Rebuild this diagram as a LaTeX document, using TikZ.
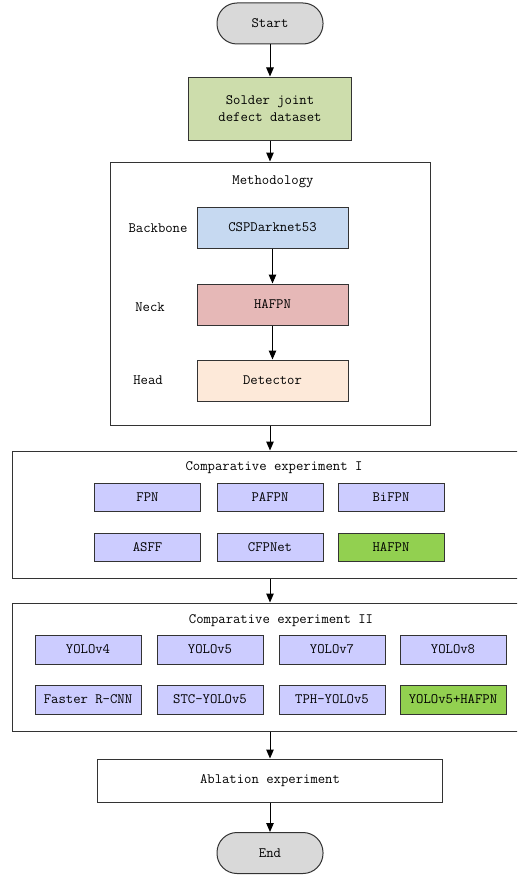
\documentclass[tikz,border=0pt]{standalone}
\usepackage{fontspec}
\usetikzlibrary{arrows.meta}
\definecolor{termgray}{RGB}{217,217,217}
\definecolor{datagreen}{RGB}{205,221,172}
\definecolor{backblue}{RGB}{198,217,241}
\definecolor{neckred}{RGB}{230,184,183}
\definecolor{headcream}{RGB}{253,233,217}
\definecolor{modelblue}{RGB}{204,204,255}
\definecolor{oursgreen}{RGB}{146,208,80}

\begin{document}
\begin{tikzpicture}[x=1pt,y=-1pt,line width=1pt,>={Triangle[length=9pt,width=7.5pt]},
  font=\ttfamily\fontsize{14.3}{17}\selectfont,
  term/.style={draw=black!80,fill=termgray,rounded corners=20pt,minimum width=106,minimum height=41,inner sep=0pt},
  stage/.style={draw=black!80,minimum width=151,minimum height=41,inner sep=0pt},
  model/.style={draw=black!80,fill=modelblue,minimum width=106,minimum height=28,inner sep=0pt},
  ours/.style={model,fill=oursgreen},
  frame/.style={draw=black!80,inner sep=0pt}]
\clip (0,0) rectangle (517,875);
% flow
\node[term] (start) at (270,23.5) {Start};
\node[stage,fill=datagreen,minimum width=163,minimum height=63,align=center] (data) at (270,108.5) {Solder joint\\defect dataset};
\node[frame,minimum width=320,minimum height=263] (method) at (270,293.5) {};
\node (methodT) at (273,182) {Methodology};
\node[stage,fill=backblue] (csp) at (272.5,227.5) {CSPDarknet53};
\node[stage,fill=neckred] (neck) at (272.5,304.5) {HAFPN};
\node[stage,fill=headcream] (det) at (272.5,380.5) {Detector};
\node (backboneL) at (158,228) {Backbone};
\node (neckL) at (150,307) {Neck};
\node (headL) at (148,380) {Head};
% comparative experiment I
\node[frame,minimum width=516,minimum height=127] (compA) at (270,514.5) {};
\node (compAT) at (274,468) {Comparative experiment I};
\node[model] (fpn) at (147.5,497) {FPN};
\node[model] (pafpn) at (270,497) {PAFPN};
\node[model] (bifpn) at (391,497) {BiFPN};
\node[model] (asff) at (147.5,547) {ASFF};
\node[model] (cfpnet) at (270,547) {CFPNet};
\node[ours] (hafpnA) at (391,547) {HAFPN};
% comparative experiment II
\node[frame,minimum width=516,minimum height=128] (compB) at (270,667) {};
\node (compBT) at (281,621) {Comparative experiment II};
\node[model,minimum height=29] (yv4) at (88,649.5) {YOLOv4};
\node[model,minimum height=29] (yv5) at (210,649.5) {YOLOv5};
\node[model,minimum height=29] (yv7) at (332,649.5) {YOLOv7};
\node[model,minimum height=29] (yv8) at (453,649.5) {YOLOv8};
\node[model,minimum height=29] (frcnn) at (88,699.5) {Faster R-CNN};
\node[model,minimum height=29] (stc) at (210,699.5) {STC-YOLOv5};
\node[model,minimum height=29] (tph) at (332,699.5) {TPH-YOLOv5};
\node[ours,minimum height=29] (yhafpn) at (453,699.5) {YOLOv5+HAFPN};
% ablation and end
\node[frame,minimum width=345,minimum height=43] (abl) at (270,780.5) {Ablation experiment};
\node[term] (end) at (270,853) {End};
\draw[->] (start) -- (data);
\draw[->] (data) -- (method);
\draw[->] (csp) -- (neck);
\draw[->] (neck) -- (det);
\draw[->] (method) -- (compA);
\draw[->] (compA) -- (compB);
\draw[->] (compB) -- (abl);
\draw[->] (abl) -- (end);
\end{tikzpicture}
\end{document}
